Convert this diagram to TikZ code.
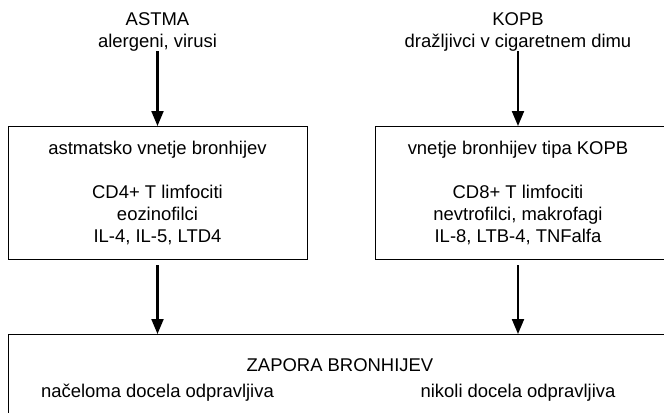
\documentclass[tikz,border=0pt]{standalone}
\usepackage{fontspec}
\setmainfont{Liberation Sans}
\usetikzlibrary{arrows.meta}
\tikzset{
  txt/.style={align=center, inner sep=0pt, anchor=north, font=\fontsize{10.5}{12.5}\selectfont},
  panel/.style={draw, line width=0.7pt, inner sep=0pt, anchor=north west},
  flow/.style={-{Triangle[length=0.3cm,width=0.24cm]}, line width=1.2pt},
}
\begin{document}
\begin{tikzpicture}[x=0.02cm,y=-0.02cm]
    \clip (0,0) rectangle (664,413);
    % causes
    \node[txt] (astma) at (157.5,12) {ASTMA\\alergeni, virusi};
    \node[txt] (kopb) at (518,12) {KOPB\\dražljivci v cigaretnem dimu};
    % inflammation boxes
    \node[panel, minimum width=5.98cm, minimum height=2.66cm] (vnetA) at (8,126) {};
    \node[panel, minimum width=6cm, minimum height=2.66cm] (vnetB) at (375,126) {};
    \node[txt] (titleA) at (157.5,141) {astmatsko vnetje bronhijev};
    \node[txt] (listA) at (157.5,185) {CD4+ T limfociti\\eozinofilci\\IL-4, IL-5, LTD4};
    \node[txt] (titleB) at (518,141) {vnetje bronhijev tipa KOPB};
    \node[txt] (listB) at (518,185) {CD8+ T limfociti\\nevtrofilci, makrofagi\\IL-8, LTB-4, TNFalfa};
    % obstruction
    \node[panel, minimum width=13.34cm, minimum height=2cm] (zapora) at (8,334) {};
    \node[txt] (zaporaTxt) at (340,358) {ZAPORA BRONHIJEV};
    \node[txt] (outA) at (157.5,384) {načeloma docela odpravljiva};
    \node[txt] (outB) at (518,384) {nikoli docela odpravljiva};
    % arrows
    \draw[flow] (astma.south) -- (astma.south |- vnetA.north);
    \draw[flow] (kopb.south) -- (kopb.south |- vnetB.north);
    \draw[flow, shorten <=3pt] (vnetA.south -| listA.south) -- (zapora.north -| listA.south);
    \draw[flow, shorten <=3pt] (vnetB.south -| listB.south) -- (zapora.north -| listB.south);
\end{tikzpicture}
\end{document}
